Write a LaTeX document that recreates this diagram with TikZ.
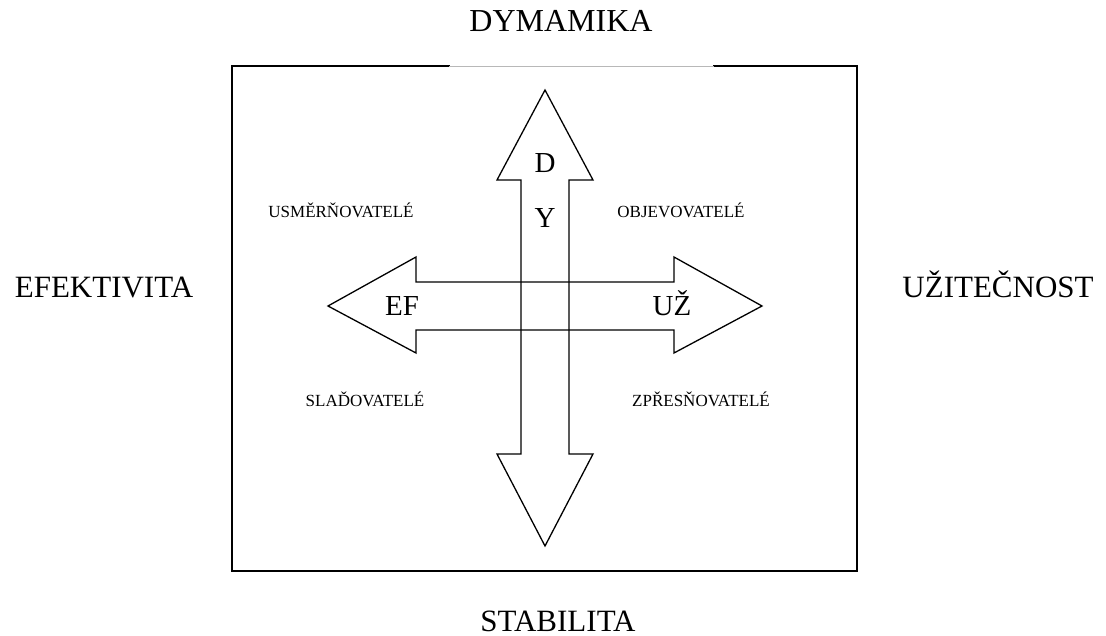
\documentclass[tikz,border=0pt]{standalone}
\usepackage{fontspec}
\setmainfont{Liberation Serif}
\begin{document}
\begin{tikzpicture}[x=1pt,y=-1pt,
  big/.style={anchor=base,inner sep=0pt,font=\fontsize{31}{36}\selectfont},
  quad/.style={anchor=base,inner sep=0pt,font=\fontsize{17}{20}\selectfont},
  inner/.style={anchor=base,inner sep=0pt,font=\fontsize{29}{34}\selectfont},
  frame/.style={line width=2pt,line cap=rect},
  arrowshape/.style={line width=1.3pt,line join=miter}]
\useasboundingbox (0,0) rectangle (1106,636);
% frame
\draw[frame] (449,66) -- (232,66) -- (232,258);
\draw[line width=1.4pt] (232,258) -- (232,330);
\draw[frame] (232,330) -- (232,571) -- (857,571) -- (857,66) -- (714,66);
\draw[line width=0.8pt,black!28] (449,66) -- (714,66);
% arrows
\draw[arrowshape] (545,90) -- (593,180) -- (569,180) -- (569,454) -- (593,454)
  -- (545,546) -- (497,454) -- (521,454) -- (521,180) -- (497,180) -- cycle;
\draw[arrowshape] (328,306) -- (416,257) -- (416,282) -- (674,282) -- (674,257)
  -- (762,306) -- (674,353) -- (674,330) -- (416,330) -- (416,353) -- cycle;
% outer labels
\node[big,font=\fontsize{32}{38}\selectfont] (dy) at (561,32) {DYMAMIKA};
\node[big] (ef) at (104,298) {EFEKTIVITA};
\node[big] (uz) at (998,298) {UŽITEČNOST};
\node[big] (st) at (558,631) {STABILITA};
% quadrant labels
\node[quad] (q1) at (341,218) {USMĚRŇOVATELÉ};
\node[quad] (q2) at (681,218) {OBJEVOVATELÉ};
\node[quad] (q3) at (365,406) {SLAĎOVATELÉ};
\node[quad] (q4) at (701,406) {ZPŘESŇOVATELÉ};
% arrow labels
\node[inner] (d) at (545,173) {D};
\node[inner] (y) at (545,228) {Y};
\node[inner] (efi) at (402,316) {EF};
\node[inner] (uzi) at (672,316) {UŽ};
\end{tikzpicture}
\end{document}
